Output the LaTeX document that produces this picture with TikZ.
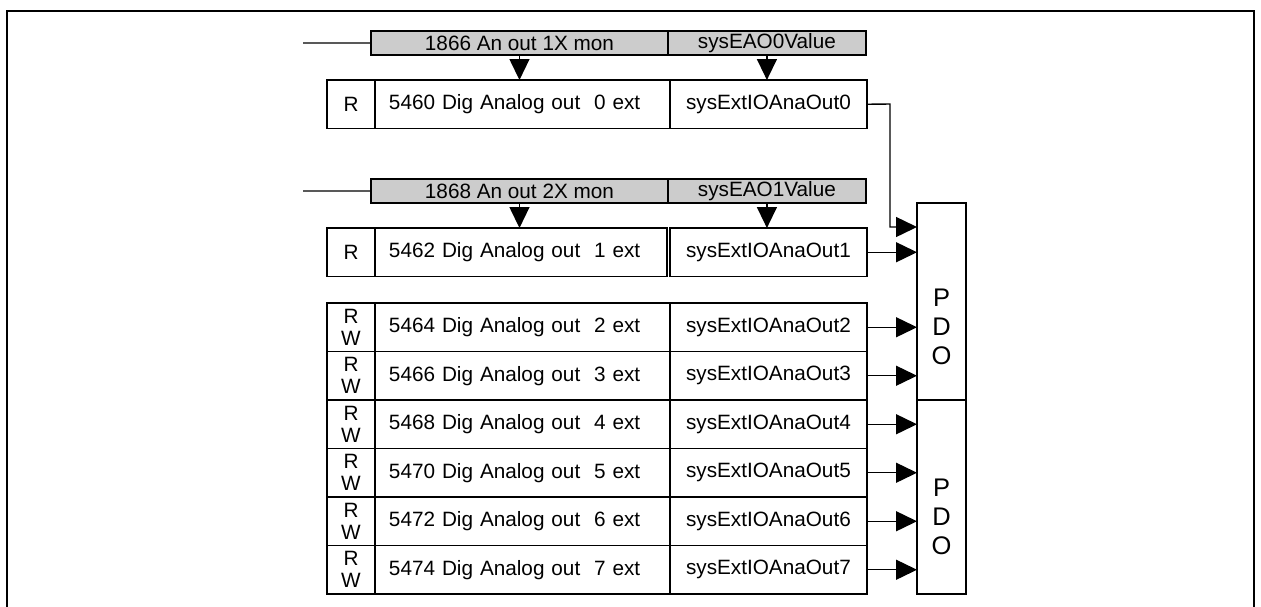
\documentclass[tikz,border=0pt]{standalone}
\usepackage{fontspec}
\setmainfont{Liberation Sans}
\usetikzlibrary{arrows.meta, positioning}

\begin{document}
\begin{tikzpicture}[x=0.02cm, y=-0.02cm, thick,
      >={Triangle[length=0.42cm, width=0.40cm]},
      every node/.style={rectangle, outer sep=0pt, inner sep=0pt, font=\fontsize{11.8}{12.6}\selectfont},
      cell/.style={draw, minimum height=0.97cm, anchor=north west},
      rcell/.style={cell, minimum width=0.96cm, align=center},
      namecell/.style={cell, minimum width=5.9cm, text width=5.34cm, inner xsep=0.28cm, align=left},
      syscell/.style={cell, minimum width=3.94cm, align=center},
      monbar/.style={draw, fill=black!20, minimum height=0.48cm, anchor=north west},
      pdobox/.style={draw, minimum width=0.98cm, anchor=north west},
      pdotext/.style={align=center, font=\fontsize{14.5}{16.4}\selectfont}]
  \useasboundingbox (0,0) rectangle (1261,606);
  \draw[line width=1.4pt] (7,630) -- (7,11) -- (1254,11) -- (1254,630);

  % first monitor group
  \node[monbar, minimum width=5.94cm] (monA) at (371,31) {1866 An out 1X mon};
  \node[monbar, minimum width=3.96cm, right=0pt of monA] (monB) {sysEAO0Value};
  \coordinate (feedA) at (303,43);
  \draw (feedA) -- (monA.west);
  \node[rcell] (rA) at (327,80) {R};
  \node[namecell, right=0pt of rA] (nA) {5460 Dig Analog out\ \ 0 ext};
  \node[syscell, right=0pt of nA] (sA) {sysExtIOAnaOut0};
  \draw[->] (monA.south) -- (monA.south |- nA.north);
  \draw[->] (monB.south) -- (monB.south |- sA.north);

  % second monitor group
  \node[monbar, minimum width=5.94cm] (monC) at (371,179) {1868 An out 2X mon};
  \node[monbar, minimum width=3.96cm, right=0pt of monC] (monD) {sysEAO1Value};
  \coordinate (feedB) at (303,191);
  \draw (feedB) -- (monC.west);
  \node[rcell] (rB) at (327,228) {R};
  \node[namecell, minimum width=5.84cm, text width=5.28cm, right=0pt of rB] (nB) {5462 Dig Analog out\ \ 1 ext};
  \node[syscell, minimum width=3.94cm, right=0.06cm of nB] (sB) {sysExtIOAnaOut1};
  \draw[->] (monC.south) -- (monC.south |- nB.north);
  \draw[->] (monD.south) -- (monD.south |- sB.north);

  % read/write rows
  \foreach \k/\addr in {2/5464, 3/5466, 4/5468, 5/5470, 6/5472, 7/5474} {
    \node[rcell] (r\k) at (327, {303+48.5*(\k-2)}) {R\\W};
    \node[namecell, right=0pt of r\k] (n\k) {\addr\ Dig Analog out\ \ \k\ ext};
    \node[syscell, right=0pt of n\k] (s\k) {sysExtIOAnaOut\k};
  }

  % PDO blocks
  \node[pdobox, minimum height=3.93cm] (pdoA) at (917,203) {};
  \node[pdobox, minimum height=3.88cm] (pdoB) at (917,400) {};
  \node[pdotext] (pdoAtxt) at (941.5,327) {P\\D\\O};
  \node[pdotext] (pdoBtxt) at (941.5,517) {P\\D\\O};

  % links into the PDOs
  \coordinate (bendA) at (890,104);
  \coordinate (pdoin) at (917,227);
  \draw[->] (sA.east) -- (bendA) |- (pdoin);
  \draw[->] (sB.east) -- (sB.east -| pdoA.west);
  \foreach \k in {2,3}
    \draw[->] (s\k.east) -- (s\k.east -| pdoA.west);
  \foreach \k in {4,...,7}
    \draw[->] (s\k.east) -- (s\k.east -| pdoB.west);
\end{tikzpicture}
\end{document}
